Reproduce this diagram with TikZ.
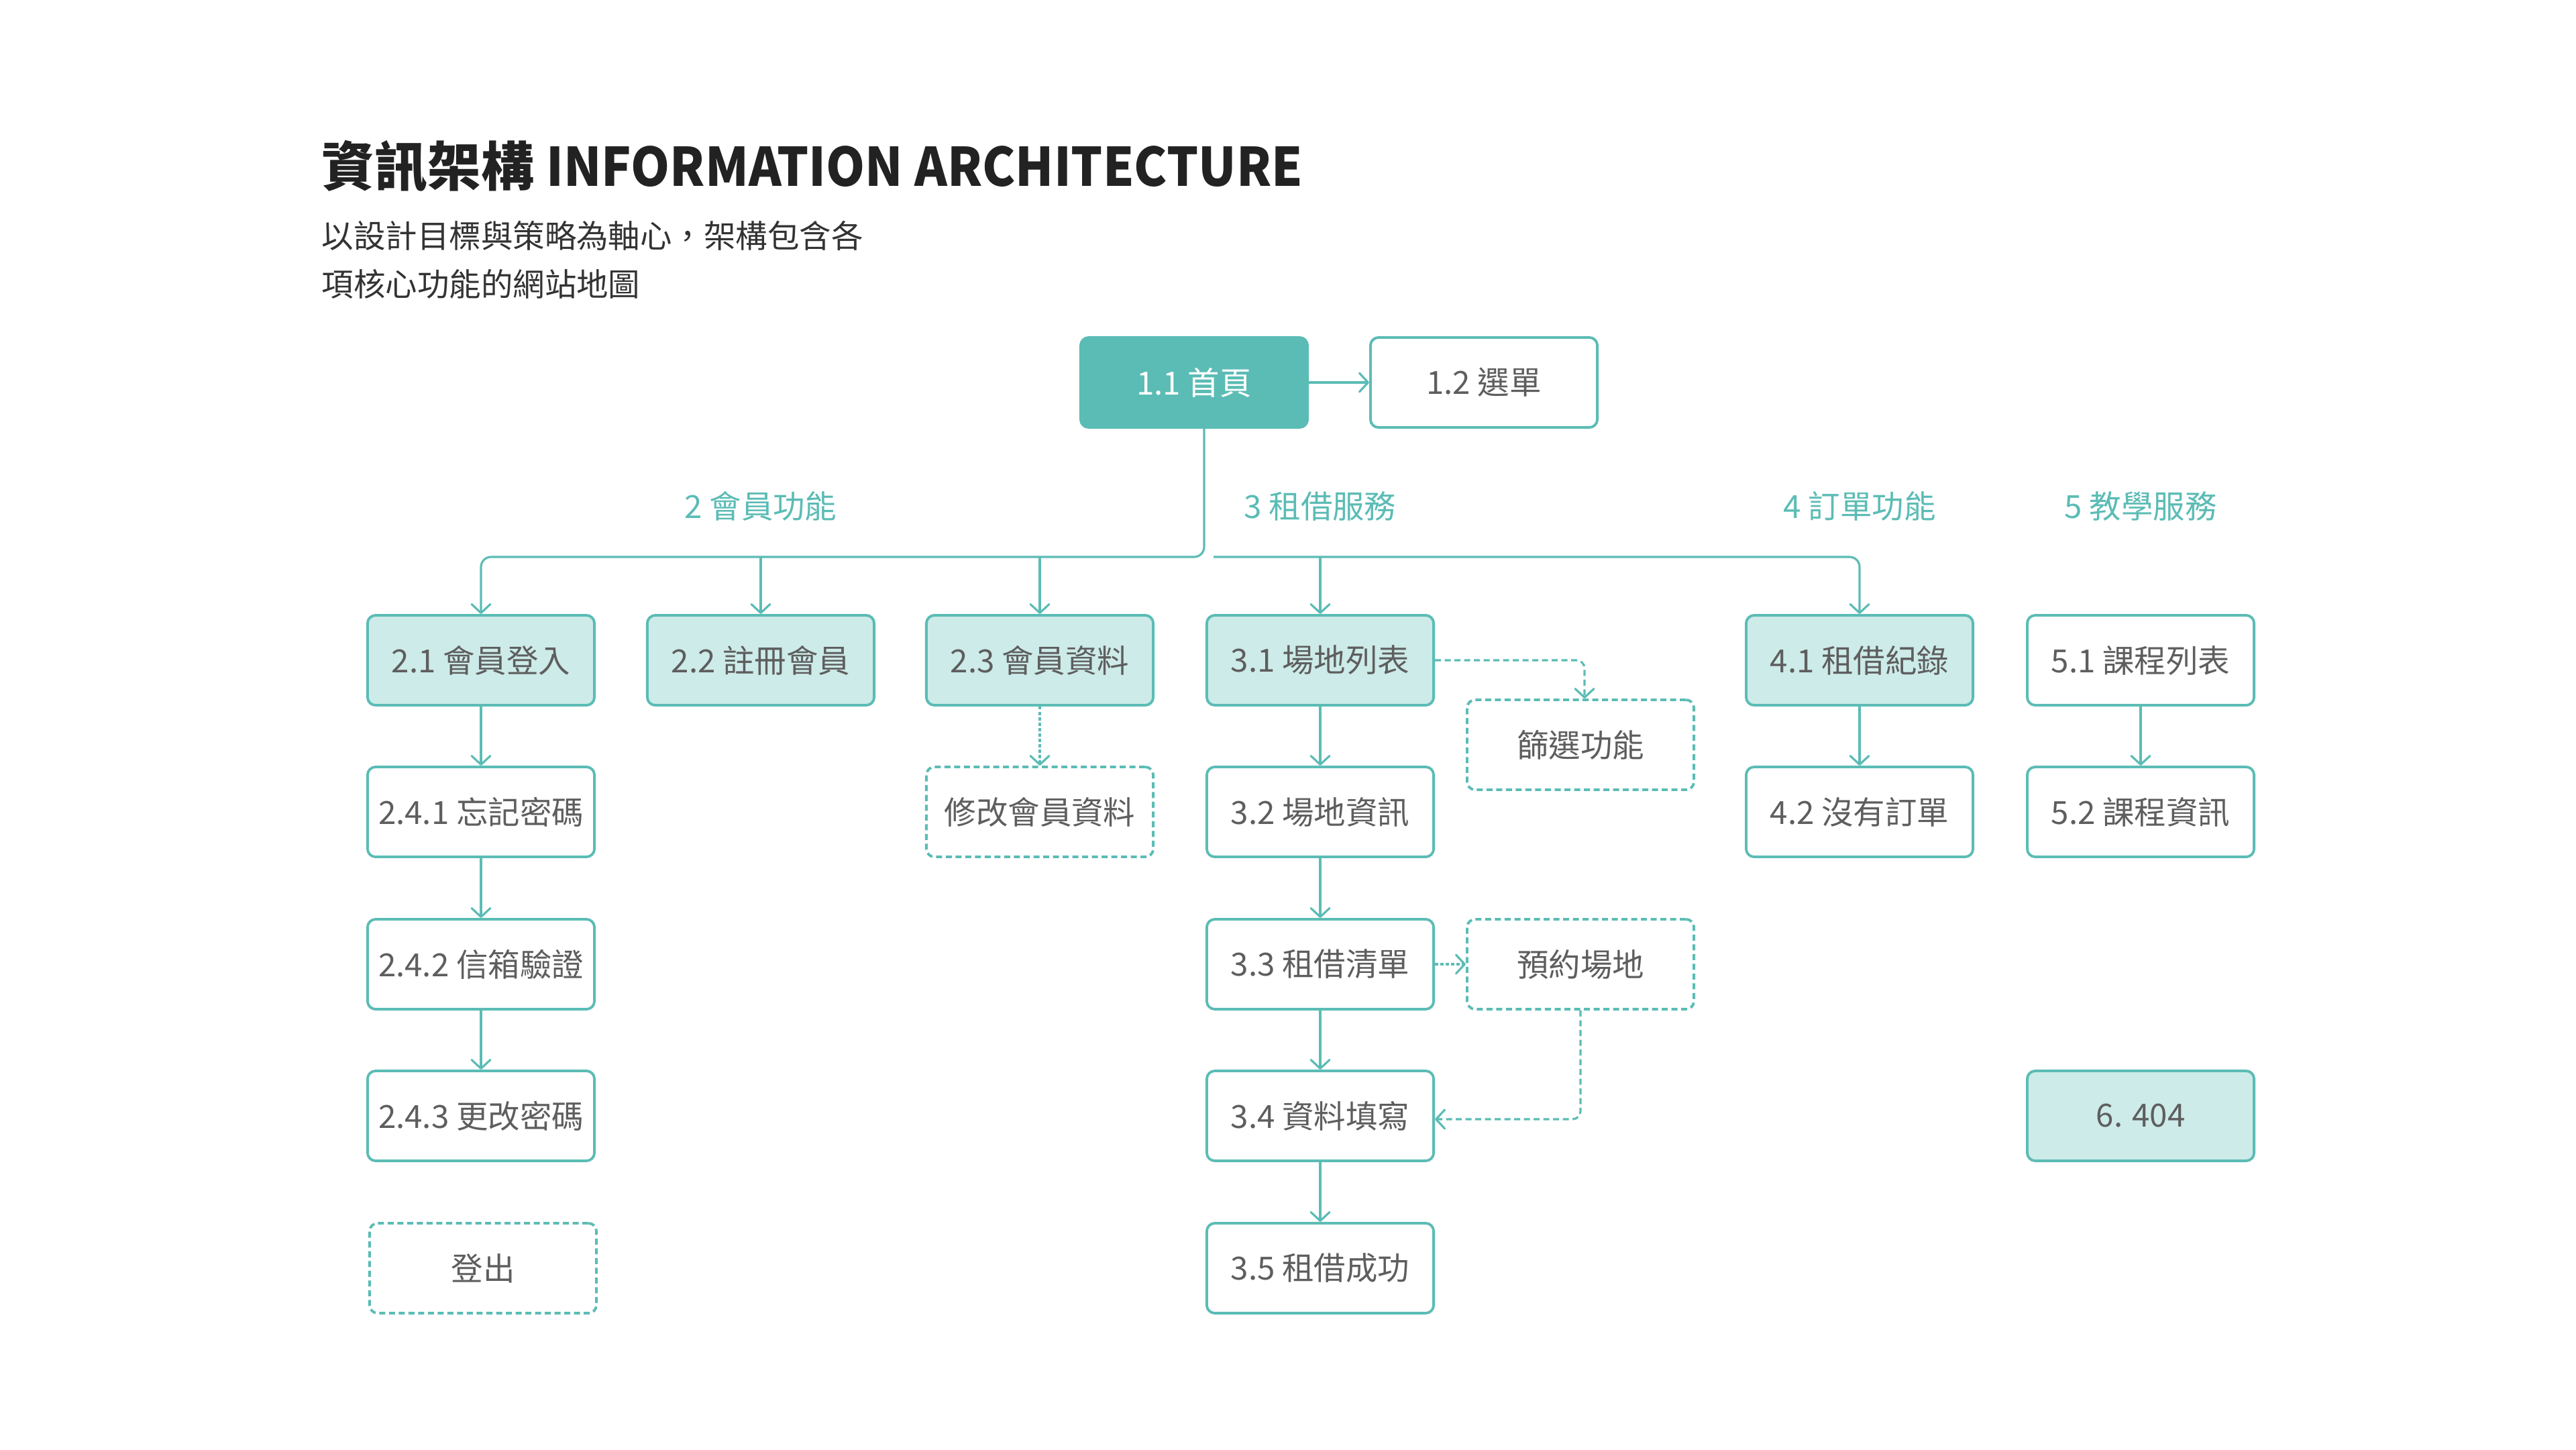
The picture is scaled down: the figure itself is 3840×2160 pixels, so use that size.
\documentclass[tikz,border=0pt]{standalone}
\usepackage{fontspec}
\setmainfont{Noto Sans CJK TC}
\usetikzlibrary{arrows.meta}
\definecolor{teal1}{HTML}{5BBCB5}
\definecolor{tealfill}{HTML}{CDEBE8}
\definecolor{txtgray}{HTML}{5E5E5E}
\definecolor{titlecol}{HTML}{222222}
\definecolor{subcol}{HTML}{333333}
\begin{document}
\begin{tikzpicture}[x=0.01cm,y=-0.01cm,
  box/.style={draw=teal1, line width=1.1pt, rounded corners=0.12cm, minimum width=3.38cm, minimum height=1.34cm, inner sep=0pt, text=txtgray, font=\fontsize{13.5pt}{16pt}\selectfont, fill=white},
  filled/.style={box, fill=tealfill},
  dbox/.style={box, dash pattern=on 0.09cm off 0.055cm},
  homebox/.style={box, fill=teal1, text=white},
  section/.style={inner sep=0pt, text=teal1, font=\fontsize{13.5pt}{16pt}\selectfont},
  conn/.style={draw=teal1, line width=0.9pt, -{Straight Barb[length=1.3mm,width=2.8mm,round]}, rounded corners=0.15cm},
  dashconn/.style={conn, dash pattern=on 0.09cm off 0.055cm, rounded corners=0.12cm},
  dotconn/.style={conn, dash pattern=on 0.045cm off 0.035cm},
]
\useasboundingbox (0,0) rectangle (3840,2160);

% title
\node[anchor=base west, inner sep=0pt, font=\fontsize{22.5pt}{27pt}\selectfont\bfseries, text=titlecol] (title) at (479,277) {資訊架構 \scalebox{0.935}[1]{INFORMATION ARCHITECTURE}};
\node[anchor=base west, inner sep=0pt, font=\fontsize{13.5pt}{16pt}\selectfont, text=subcol] (sub1) at (479,369) {以設計目標與策略為軸心，架構包含各};
\node[anchor=base west, inner sep=0pt, font=\fontsize{13.5pt}{16pt}\selectfont, text=subcol] (sub2) at (479,441) {項核心功能的網站地圖};

% top
\node[homebox] (n11) at (1780,570) {1.1 首頁};
\node[box] (n12) at (2212,570) {1.2 選單};

% sections
\node[section] (s2) at (1134,754) {2 會員功能};
\node[section] (s3) at (1968,754) {3 租借服務};
\node[section] (s4) at (2772,754) {4 訂單功能};
\node[section] (s5) at (3191,754) {5 教學服務};

% row 1
\node[filled] (n21) at (717,984) {2.1 會員登入};
\node[filled] (n22) at (1134,984) {2.2 註冊會員};
\node[filled] (n23) at (1550,984) {2.3 會員資料};
\node[filled] (n31) at (1968,984) {3.1 場地列表};
\node[filled] (n41) at (2772,984) {4.1 租借紀錄};
\node[box] (n51) at (3191,984) {5.1 課程列表};

\node[dbox] (nfil) at (2356,1110) {篩選功能};

% row 2
\node[box] (n241) at (717,1210) {2.4.1 忘記密碼};
\node[dbox] (nmod) at (1550,1210) {修改會員資料};
\node[box] (n32) at (1968,1210) {3.2 場地資訊};
\node[box] (n42) at (2772,1210) {4.2 沒有訂單};
\node[box] (n52) at (3191,1210) {5.2 課程資訊};

% row 3
\node[box] (n242) at (717,1437) {2.4.2 信箱驗證};
\node[box] (n33) at (1968,1437) {3.3 租借清單};
\node[dbox] (nres) at (2356,1437) {預約場地};

% row 4
\node[box] (n243) at (717,1663) {2.4.3 更改密碼};
\node[box] (n34) at (1968,1663) {3.4 資料填寫};
\node[filled] (n6) at (3191,1663) {6. 404};

% row 5
\node[dbox] (nout) at (720,1890) {登出};
\node[box] (n35) at (1968,1890) {3.5 租借成功};

% connectors
\draw[conn] (n11) -- (n12);
\coordinate (busL) at (1795,830);
\coordinate (busR) at (1809,830);
\draw[conn] (n11.south -| busL) -- (busL) -| (n21.north);
\draw[conn] (n22.north |- busL) -- (n22.north);
\draw[conn] (n23.north |- busL) -- (n23.north);
\draw[conn] (busR) -| (n41.north);
\draw[conn] (n31.north |- busR) -- (n31.north);

\draw[conn] (n21) -- (n241);
\draw[conn] (n241) -- (n242);
\draw[conn] (n242) -- (n243);
\draw[dotconn] (n23) -- (nmod);
\draw[conn] (n31) -- (n32);
\draw[conn] (n32) -- (n33);
\draw[conn] (n33) -- (n34);
\draw[conn] (n34) -- (n35);
\draw[conn] (n41) -- (n42);
\draw[conn] (n51) -- (n52);

\draw[dashconn] (n31.east) -| ([xshift=0.06cm]nfil.north);
\draw[dotconn] (n33) -- (nres);
\draw[dashconn] (nres.south) |- ([yshift=-0.05cm]n34.east);
\end{tikzpicture}
\end{document}
